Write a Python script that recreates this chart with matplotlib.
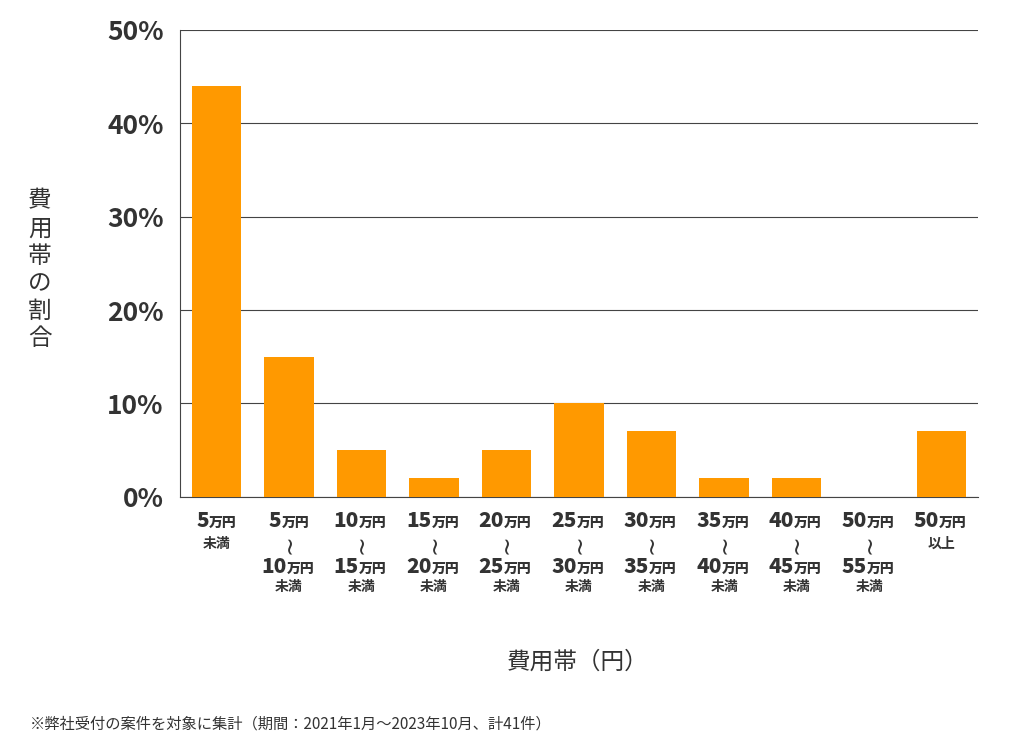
import matplotlib
matplotlib.use("Agg")
import matplotlib.pyplot as plt
from matplotlib import transforms

plt.rcParams['font.family'] = ['Noto Sans CJK JP', 'DejaVu Sans']

lows = ["5", "5", "10", "15", "20", "25", "30", "35", "40", "50", "50"]
highs = [None, "10", "15", "20", "25", "30", "35", "40", "45", "55", None]
suffix = ["未満", "未満", "未満", "未満", "未満", "未満", "未満", "未満", "未満", "未満", "以上"]
values = [44, 15, 5, 2, 5, 10, 7, 2, 2, 0, 7]
yticks = [0, 10, 20, 30, 40, 50]

fig = plt.figure(figsize=(10.24, 7.46), dpi=100)
ax = fig.add_axes([0.176, 0.334, 0.779, 0.626])
x = list(range(len(values)))
ax.bar(x, values, width=0.68, color='#ff9900', zorder=3)
ax.set_xlim(-0.5, 10.5)
ax.set_ylim(0, 50)
ax.set_yticks(yticks)
ax.set_yticklabels([f"{v}%" for v in yticks], fontsize=19, fontweight='bold', color='#333333')
ax.grid(axis='y', color='#444444', linewidth=0.8, zorder=0)
for s in ['top', 'right']:
    ax.spines[s].set_visible(False)
ax.spines['left'].set_color('#444444')
ax.spines['bottom'].set_color('#444444')
ax.tick_params(axis='y', length=0, pad=12)
ax.set_xticks([])

tr = transforms.blended_transform_factory(ax.transData, fig.transFigure)
dark = '#333333'

def amount(xc, yf, num):
    numw = 10.0 * len(num)
    unitw = 25.0
    off = (numw - unitw) / 2.0  # pixels
    t = tr + transforms.ScaledTranslation(off / 100.0, 0, fig.dpi_scale_trans)
    ax.text(xc, yf, num, transform=t, ha='right', va='baseline',
            fontsize=15, fontweight='heavy', color=dark)
    ax.text(xc, yf, "万円", transform=t, ha='left', va='baseline',
            fontsize=10, fontweight='heavy', color=dark)

for i in x:
    amount(i, 1 - 527 / 746, lows[i])
    if highs[i] is None:
        ax.text(i, 1 - 548 / 746, suffix[i], transform=tr, ha='center', va='baseline',
                fontsize=10, fontweight='bold', color=dark)
    else:
        ax.text(i, 1 - 544 / 746, "~", transform=tr, ha='center', va='center', rotation=90,
                fontsize=17, color=dark, family='DejaVu Sans')
        amount(i, 1 - 573 / 746, highs[i])
        ax.text(i, 1 - 591 / 746, suffix[i], transform=tr, ha='center', va='baseline',
                fontsize=10, fontweight='bold', color=dark)

fig.text(40 / 1024, 1 - 270 / 746, "費\n用\n帯\nの\n割\n合", ha='center', va='center',
         fontsize=17, color=dark, linespacing=1.25)
fig.text(578 / 1024, 1 - 662 / 746, "費用帯（円）", ha='center', va='center', fontsize=17, color=dark)
fig.text(30 / 1024, 1 - 724 / 746, "※弊社受付の案件を対象に集計（期間：2021年1月～2023年10月、計41件）",
         ha='left', va='center', fontsize=11, color=dark)

fig.savefig("out.png", dpi=100, facecolor='white')
